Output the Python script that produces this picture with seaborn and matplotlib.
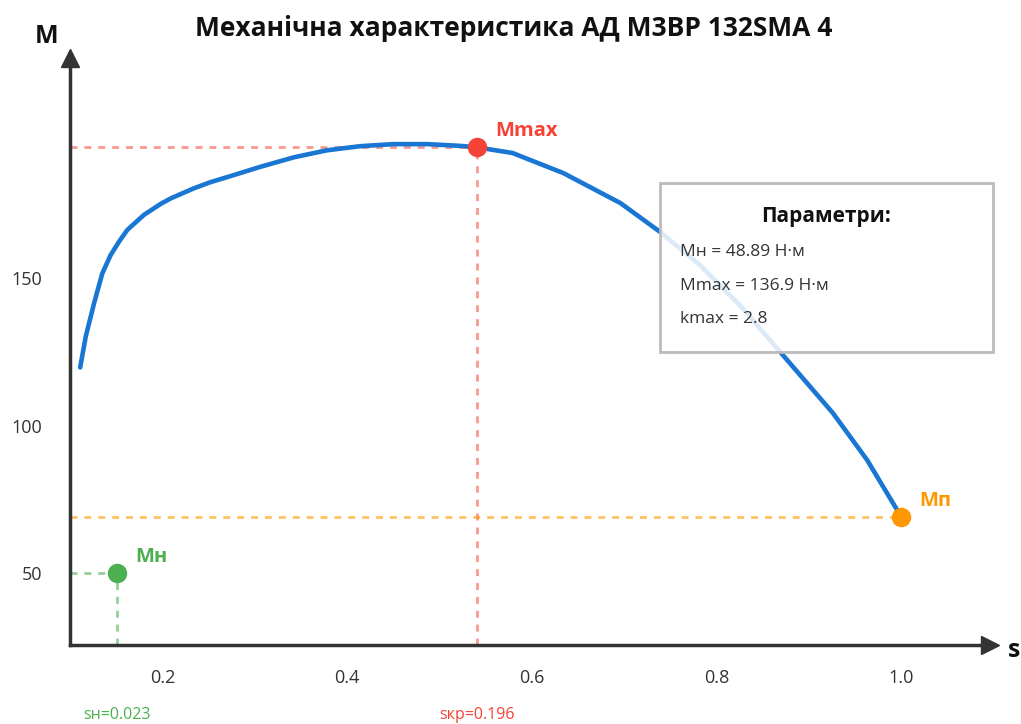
import matplotlib
matplotlib.use("Agg")
import matplotlib.pyplot as plt
import matplotlib.transforms as mtransforms
from matplotlib.patches import Rectangle
import pandas as pd
import seaborn as sns

# slip / torque values
s_vals = [0.111, 0.117, 0.126, 0.135, 0.144, 0.153, 0.162, 0.180, 0.198, 0.209,
          0.234, 0.252, 0.270, 0.306, 0.342, 0.378, 0.414, 0.450, 0.487, 0.523,
          0.541, 0.579, 0.634, 0.696, 0.739, 0.782, 0.826, 0.869, 0.926, 0.963,
          1.0]
m_vals = [119.7, 130.1, 141.4, 151.6, 157.8, 162.3, 166.3, 171.4, 175.1, 177.0,
          180.4, 182.5, 184.2, 187.7, 190.9, 193.3, 194.7, 195.4, 195.4, 194.8,
          194.3, 192.4, 185.6, 175.4, 165.6, 154.4, 140.5, 124.9, 104.2, 88.3,
          69.0]

# key points
point_names = ["Mн", "Mmax", "Mп"]
point_s = [0.151, 0.541, 1.0]
point_m = [50.0, 194.4, 69.0]
point_colors = ["#4caf50", "#f44336", "#ff9800"]

x_ticks = [0.2, 0.4, 0.6, 0.8, 1.0]
y_ticks = [50, 100, 150]

title = "Механічна характеристика АД M3BP 132SMA 4"
params_title = "Параметри:"
params_lines = ["Mн = 48.89 Н·м", "Mmax = 136.9 Н·м", "kmax = 2.8"]
s_labels = ["sн=0.023", "sкр=0.196"]

sns.set_theme(style="white")
plt.rcParams["font.family"] = ["Open Sans", "DejaVu Sans"]

df = pd.DataFrame({"s": s_vals, "M": m_vals})

fig = plt.figure(figsize=(10.21, 7.24), dpi=100)
ax = fig.add_axes([70 / 1021, 1 - 645 / 724, 920 / 1021, 587 / 724])
xmin, xmax = 0.1, 1.096
ymin, ymax = 25.6, 224.6
ax.set_xlim(xmin, xmax)
ax.set_ylim(ymin, ymax)

# guide lines
dash = (0, (2.5, 2.5))
ax.hlines(point_m[0], xmin, point_s[0], colors=point_colors[0], alpha=0.6, lw=2, linestyles=dash, zorder=1)
ax.vlines(point_s[0], ymin, point_m[0], colors=point_colors[0], alpha=0.6, lw=2, linestyles=dash, zorder=1)
ax.hlines(point_m[1], xmin, point_s[1], colors=point_colors[1], alpha=0.55, lw=2, linestyles=dash, zorder=1)
ax.vlines(point_s[1], ymin, point_m[1], colors=point_colors[1], alpha=0.55, lw=2, linestyles=dash, zorder=1)
ax.hlines(point_m[2], xmin, point_s[2], colors=point_colors[2], alpha=0.6, lw=2, linestyles=dash, zorder=1)

sns.lineplot(data=df, x="s", y="M", sort=False, color="#1976d2", lw=3.3, ax=ax, zorder=2)
ax.set_xlabel("")
ax.set_ylabel("")

for name, sx, my, c in zip(point_names, point_s, point_m, point_colors):
    ax.plot(sx, my, "o", ms=13, color=c, zorder=4, clip_on=False)
    ax.annotate(name, (sx, my), xytext=(13, 11.5), textcoords="offset points",
                color=c, fontsize=14.5, fontweight="bold", ha="left", va="center")

# axes with arrows
for side in ["top", "right"]:
    ax.spines[side].set_visible(False)
for side in ["left", "bottom"]:
    ax.spines[side].set_color("#333333")
    ax.spines[side].set_linewidth(2.5)
ax.plot(1, 0, ">", color="#333333", ms=13, transform=ax.transAxes, clip_on=False)
ax.plot(0, 1, "^", color="#333333", ms=13, transform=ax.transAxes, clip_on=False)

ax.set_xticks(x_ticks)
ax.set_xticklabels([f"{v:.1f}" for v in x_ticks])
ax.set_yticks(y_ticks)
ax.tick_params(direction="inout", length=12, width=2, color="#333333",
               labelcolor="#333333", labelsize=13)
ax.tick_params(axis="x", pad=11)
ax.tick_params(axis="y", pad=14)

ax.text(-0.026, 1.036, "M", transform=ax.transAxes, fontsize=18, fontweight="bold",
        ha="center", va="center", color="#111111")
ax.text(1.019, -0.009, "s", transform=ax.transAxes, fontsize=18, fontweight="bold",
        ha="left", va="center", color="#111111", clip_on=False)
fig.text(0.503, 1 - 28 / 724, title, fontsize=19, fontweight="bold", ha="center", va="center", color="#111111")

# slip labels under the axis
trans = mtransforms.blended_transform_factory(ax.transData, ax.transAxes)
ax.text(point_s[0], -0.12, s_labels[0], transform=trans, color=point_colors[0],
        fontsize=11.5, ha="center", va="center")
ax.text(point_s[1], -0.12, s_labels[1], transform=trans, color=point_colors[1],
        fontsize=11.5, ha="center", va="center")

# parameter box
box = Rectangle((0.641, 0.499), 0.362, 0.288, transform=ax.transAxes,
                facecolor="white", alpha=0.85, edgecolor="none", zorder=5, clip_on=False)
ax.add_patch(box)
frame = Rectangle((0.641, 0.499), 0.362, 0.288, transform=ax.transAxes,
                  facecolor="none", edgecolor="#bbbbbb", lw=2, zorder=6, clip_on=False)
ax.add_patch(frame)
ax.text(0.822, 0.730, params_title, transform=ax.transAxes, fontsize=15, fontweight="bold",
        ha="center", va="center", color="#111111", zorder=7)
for i, line in enumerate(params_lines):
    ax.text(0.663, 0.669 - i * 0.057, line, transform=ax.transAxes, fontsize=12.5,
            ha="left", va="center", color="#333333", zorder=7)

fig.savefig("out.png", dpi=100)
